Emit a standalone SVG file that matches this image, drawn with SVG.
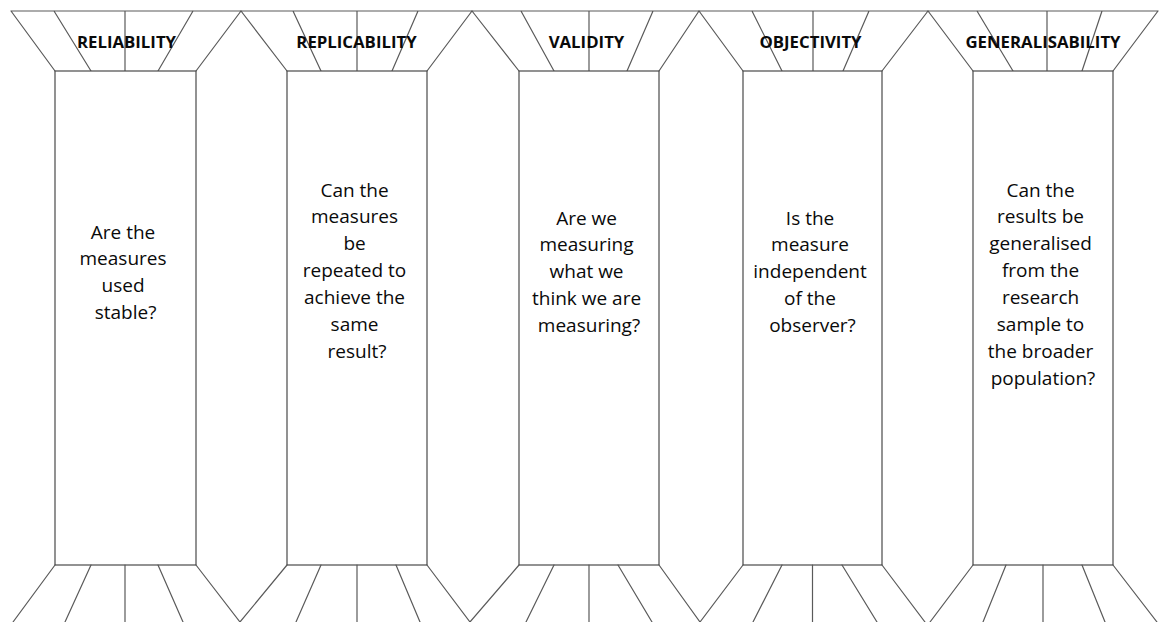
<svg xmlns="http://www.w3.org/2000/svg" width="1163" height="622" viewBox="0 0 1163 622">
  <style>
    .ln { stroke: #5a5a5a; stroke-width: 1.2; fill: none; stroke-linecap: round; }
    .box { stroke: #4a4a4a; stroke-width: 1.2; fill: #ffffff; }
    .hd { font-family: "Open Sans", "Liberation Sans", sans-serif; font-weight: bold; font-size: 16.8px; fill: #0a0a0a; text-anchor: middle; }
    .bd { font-family: "Open Sans", "Liberation Sans", sans-serif; font-size: 19px; fill: #0a0a0a; text-anchor: middle; }
  </style>
  <rect width="1163" height="622" fill="#ffffff"/>

  <!-- Pillar 1: reliability -->
  <g id="reliability">
    <path class="ln" d="M11 11H241 M11 11L55 71 M54 11L91 71 M125 11V71 M193 11L158 71 M241 11L196 71"/>
    <rect class="box" x="55" y="71" width="141" height="494"/>
    <path class="ln" d="M55 565L13 622 M91 565L65 622 M125 565V622 M158 565L183 622 M196 565L240 622"/>
    <text class="hd" x="126.5" y="47.5">RELIABILITY</text>
    <text class="bd" x="125.5" y="238.5">
      <tspan x="125.5">Are the</tspan>
      <tspan x="125.5" dy="26.9">measures</tspan>
      <tspan x="125.5" dy="26.9">used</tspan>
      <tspan x="125.5" dy="26.9">stable?</tspan>
    </text>
  </g>

  <!-- Pillar 2: replicability -->
  <g id="replicability">
    <path class="ln" d="M241 11H472 M241 11L287 71 M293 11L321 71 M357 11V71 M418 11L392 71 M472 11L427 71"/>
    <rect class="box" x="287" y="71" width="140" height="494"/>
    <path class="ln" d="M287 565L240 622 M321 565L296 622 M357 565V622 M396 565L420 622 M427 565L470 622"/>
    <text class="hd" x="356.5" y="47.5">REPLICABILITY</text>
    <text class="bd" x="357" y="196.5">
      <tspan x="357">Can the</tspan>
      <tspan x="357" dy="26.9">measures</tspan>
      <tspan x="357" dy="26.9">be</tspan>
      <tspan x="357" dy="26.9">repeated to</tspan>
      <tspan x="357" dy="26.9">achieve the</tspan>
      <tspan x="357" dy="26.9">same</tspan>
      <tspan x="357" dy="26.9">result?</tspan>
    </text>
  </g>

  <!-- Pillar 3: validity -->
  <g id="validity">
    <path class="ln" d="M472 11H699 M472 11L519 71 M521 11L554 71 M589 11V71 M653 11L627 71 M699 11L659 71"/>
    <rect class="box" x="519" y="71" width="140" height="494"/>
    <path class="ln" d="M519 565L470 622 M554 565L526 622 M589 565V622 M618 565L652 622 M659 565L700 622"/>
    <text class="hd" x="586.5" y="47.5">VALIDITY</text>
    <text class="bd" x="589" y="224.5">
      <tspan x="589">Are we</tspan>
      <tspan x="589" dy="26.9">measuring</tspan>
      <tspan x="589" dy="26.9">what we</tspan>
      <tspan x="589" dy="26.9">think we are</tspan>
      <tspan x="589" dy="26.9">measuring?</tspan>
    </text>
  </g>

  <!-- Pillar 4: objectivity -->
  <g id="objectivity">
    <path class="ln" d="M699 11H928 M699 11L743 71 M752 11L782 71 M813 11V71 M869 11L843 71 M928 11L882 71"/>
    <rect class="box" x="743" y="71" width="139" height="494"/>
    <path class="ln" d="M743 565L700 622 M782 565L753 622 M812.5 565V622 M842 565L877 622 M882 565L925 622"/>
    <text class="hd" x="810.5" y="47.5">OBJECTIVITY</text>
    <text class="bd" x="812.5" y="224.5">
      <tspan x="812.5">Is the</tspan>
      <tspan x="812.5" dy="26.9">measure</tspan>
      <tspan x="812.5" dy="26.9">independent</tspan>
      <tspan x="812.5" dy="26.9">of the</tspan>
      <tspan x="812.5" dy="26.9">observer?</tspan>
    </text>
  </g>

  <!-- Pillar 5: generalisability -->
  <g id="generalisability">
    <path class="ln" d="M928 11H1158 M928 11L973 71 M977 11L1013 71 M1047 11V71 M1102 11L1082 71 M1158 11L1113 71"/>
    <rect class="box" x="973" y="71" width="140" height="494"/>
    <path class="ln" d="M973 565L930 622 M1006 565L983 622 M1043 565V622 M1082 565L1105 622 M1113 565L1157 622"/>
    <text class="hd" x="1043" y="47.5">GENERALISABILITY</text>
    <text class="bd" x="1043" y="196.5">
      <tspan x="1043">Can the</tspan>
      <tspan x="1043" dy="26.9">results be</tspan>
      <tspan x="1043" dy="26.9">generalised</tspan>
      <tspan x="1043" dy="26.9">from the</tspan>
      <tspan x="1043" dy="26.9">research</tspan>
      <tspan x="1043" dy="26.9">sample to</tspan>
      <tspan x="1043" dy="26.9">the broader</tspan>
      <tspan x="1043" dy="26.9">population?</tspan>
    </text>
  </g>
</svg>
